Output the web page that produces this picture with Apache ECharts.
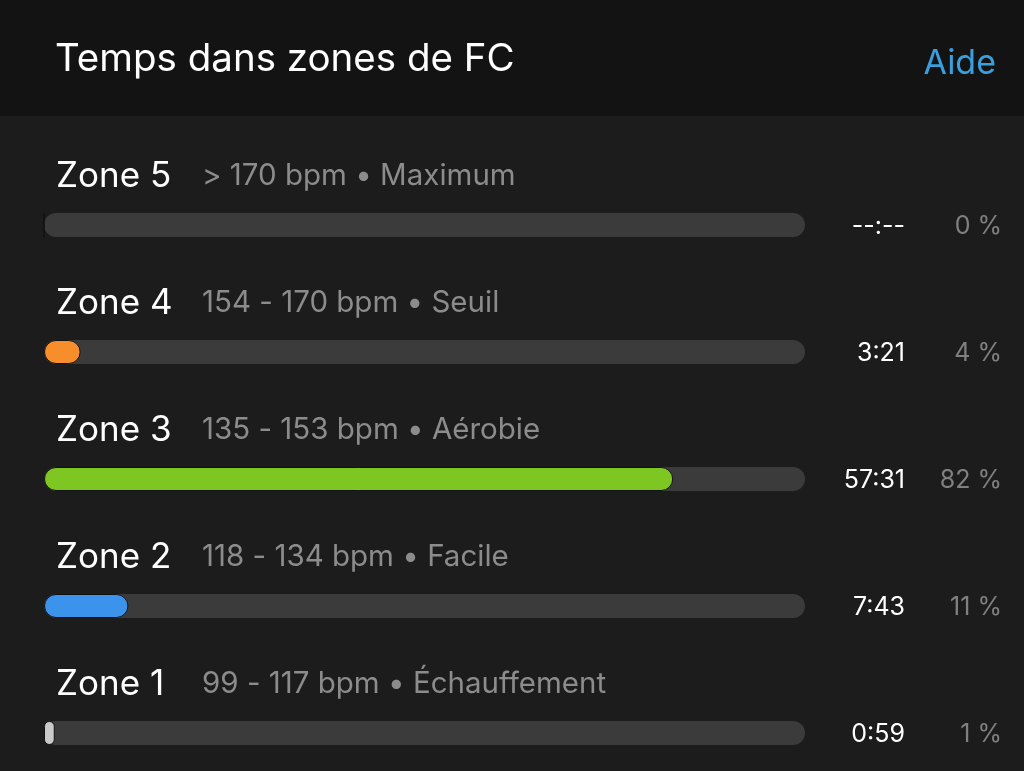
<!DOCTYPE html>
<html>
<head>
<meta charset="utf-8">
<script src="https://cdn.jsdelivr.net/npm/echarts@6/dist/echarts.min.js"></script>
<style>
html,body{margin:0;padding:0;background:#1c1c1c;}
#chart{width:1024px;height:771px;}
</style>
</head>
<body>
<div id="chart"></div>
<script>
const zones = ['Zone 5', 'Zone 4', 'Zone 3', 'Zone 2', 'Zone 1'];
const ranges = ['> 170 bpm • Maximum', '154 - 170 bpm • Seuil', '135 - 153 bpm • Aérobie', '118 - 134 bpm • Facile', '99 - 117 bpm • Échauffement'];
const seconds = [0, 201, 3451, 463, 59];
const percents = [0, 4, 82, 11, 1];
const colors = ['#f78e2b', '#f78e2b', '#7ec722', '#3b93eb', '#c9c9c9'];

const total = seconds.reduce((a, b) => a + b, 0);
function fmt(s) {
  if (!s) return '--:--';
  const m = Math.floor(s / 60), r = s % 60;
  return m + ':' + (r < 10 ? '0' : '') + r;
}
const FONT = 'Inter, "Noto Sans", sans-serif';

const chart = echarts.init(document.getElementById('chart'));
chart.setOption({
  backgroundColor: '#1c1c1c',
  animation: false,
  graphic: [{
    type: 'rect', left: 0, top: 0, z: -10,
    shape: { width: 1024, height: 116 },
    style: { fill: '#131313' }
  }],
  title: [{
    text: 'Temps dans zones de FC', left: 55, top: 40, padding: 0,
    textStyle: { color: '#ffffff', fontSize: 38.5, fontWeight: 'normal', fontFamily: FONT }
  }, {
    text: 'Aide', right: 28, top: 47, padding: 0,
    textStyle: { color: '#3a9fdf', fontSize: 34, fontWeight: 'normal', fontFamily: FONT }
  }],
  grid: { left: 44, right: 219, top: 225, bottom: 38, containLabel: false },
  xAxis: { type: 'value', min: 0, max: total, show: false },
  yAxis: { type: 'category', data: zones, inverse: true, show: false, boundaryGap: false },
  series: [{
    type: 'bar',
    name: 'track',
    data: zones.map(() => total),
    barWidth: 24,
    barGap: '-100%',
    silent: true,
    z: 1,
    itemStyle: { color: '#3b3b3b', borderRadius: 12 },
    label: {
      show: true,
      position: 'right',
      distance: 0,
      offset: [0, 1],
      formatter: p => '{t|' + fmt(seconds[p.dataIndex]) + '}{p|' + percents[p.dataIndex] + ' %}',
      rich: {
        t: { width: 100, align: 'right', color: '#ffffff', fontSize: 25, fontFamily: FONT },
        p: { width: 97, align: 'right', color: '#808080', fontSize: 25, fontFamily: FONT }
      }
    }
  }, {
    type: 'bar',
    name: 'zones-label',
    data: zones.map(() => total),
    barWidth: 24,
    barGap: '-100%',
    silent: true,
    z: 0,
    itemStyle: { color: 'transparent' },
    label: {
      show: true,
      position: [12, -37],
      verticalAlign: 'middle',
      align: 'left',
      formatter: p => '{z|' + zones[p.dataIndex] + '}{r|' + ranges[p.dataIndex] + '}',
      rich: {
        z: { color: '#ffffff', fontSize: 35, fontFamily: FONT, width: 146 },
        r: { color: '#8c8c8c', fontSize: 29.5, fontFamily: FONT }
      }
    }
  }, {
    type: 'bar',
    name: 'time',
    data: seconds.map((v, i) => ({ value: v, itemStyle: { color: colors[i] } })),
    barWidth: 24,
    barGap: '-100%',
    z: 3,
    itemStyle: { borderRadius: 12, borderColor: '#111', borderWidth: 1 }
  }]
});
</script>
</body>
</html>
